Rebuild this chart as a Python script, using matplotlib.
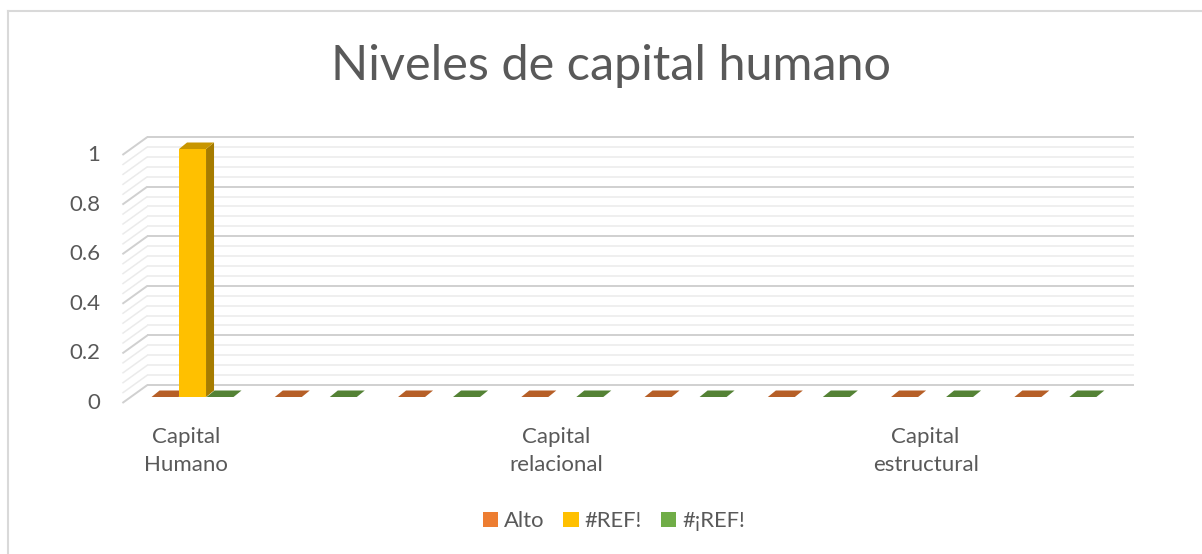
import numpy as np
import matplotlib
matplotlib.use("Agg")
import matplotlib.pyplot as plt
from matplotlib.patches import Polygon, Patch
from matplotlib.lines import Line2D

# ---- data ----
categories = ["Capital\nHumano", "", "", "Capital\nrelacional", "", "", "Capital\nestructural", ""]
series_names = ["Alto", "#REF!", "#¡REF!"]
alto = [0, 0, 0, 0, 0, 0, 0, 0]
ref1 = [1, np.nan, np.nan, np.nan, np.nan, np.nan, np.nan, np.nan]
ref2 = [0, 0, 0, 0, 0, 0, 0, 0]
y_ticks = [0, 0.2, 0.4, 0.6, 0.8, 1.0]
y_tick_labels = ["0", "0.2", "0.4", "0.6", "0.8", "1"]

front_colors = ["#ED7D31", "#FFC000", "#70AD47"]
top_colors = ["#B65F27", "#C89600", "#548235"]
side_colors = ["#A4541F", "#A67C00", "#4A7530"]

FONT = "Lato"
TXT = "#595959"

W_PX, H_PX = 1202, 554
fig = plt.figure(figsize=(W_PX / 100, H_PX / 100), dpi=100)
fig.patch.set_facecolor("white")

# bar plane axes: x -0.5..7.5, y 0..1
L, R = 130.9, 1117.0
Y0, Y1 = 397.0, 149.0
ax = fig.add_axes([L / W_PX, (H_PX - Y0) / H_PX, (R - L) / W_PX, (Y0 - Y1) / H_PX])
ax.set_xlim(-0.5, len(categories) - 0.5)
ax.set_ylim(0, 1)
ax.axis("off")

px_x = (R - L) / len(categories)
px_y = (Y0 - Y1)
# depth offsets (data units)
DXB, DYB = 16.5 / px_x, 12.0 / px_y      # back wall
DXF, DYF = -8.5 / px_x, -6.0 / px_y      # front plane
BDX, BDY = 8.0 / px_x, 6.5 / px_y        # bar depth

xmin, xmax = -0.5, len(categories) - 0.5

# gridlines (back wall + left side wall)
for k in range(26):
    v = k * 0.04
    major = (k % 5 == 0)
    col = "#D0D0D0" if major else "#EBEBEB"
    lw = 1.4 if major else 1.1
    ax.plot([xmin + DXB, xmax + DXB], [v + DYB, v + DYB], color=col, lw=lw,
            clip_on=False, zorder=1, solid_capstyle="butt")
    ax.plot([xmin + DXF, xmin + DXB], [v + DYF, v + DYB], color=col, lw=lw,
            clip_on=False, zorder=1, solid_capstyle="butt")

x = np.arange(len(categories))
bw = 27.0 / px_x
offsets = [-27.5 / px_x, 0.0, 27.5 / px_x]
series = [alto, ref1, ref2]

def draw_bar(xc, val, i, z):
    if val is None or np.isnan(val):
        return
    x0, x1 = xc - bw / 2, xc + bw / 2
    if val > 0:
        ax.add_patch(Polygon([(x0, 0), (x1, 0), (x1, val), (x0, val)], closed=True,
                             facecolor=front_colors[i], edgecolor="none", clip_on=False, zorder=z))
        ax.add_patch(Polygon([(x1, 0), (x1 + BDX, BDY), (x1 + BDX, val + BDY), (x1, val)], closed=True,
                             facecolor=side_colors[i], edgecolor="none", clip_on=False, zorder=z))
    ax.add_patch(Polygon([(x0, val), (x1, val), (x1 + BDX, val + BDY), (x0 + BDX, val + BDY)], closed=True,
                         facecolor=top_colors[i], edgecolor="none", clip_on=False, zorder=z))

for i in [0, 2, 1]:
    for j, xc in enumerate(x):
        draw_bar(xc + offsets[i], series[i][j], i, 3 + (1 if i == 1 else 0))

# y tick labels
for t, lab in zip(y_ticks, y_tick_labels):
    ax.text(xmin + DXF - 22.0 / px_x, t + DYF, lab, ha="right", va="center",
            fontsize=16, color=TXT, family=FONT, clip_on=False)

# category labels
for xc, lab in zip(x, categories):
    if lab:
        ax.text(xc + DXF + 2.0 / px_x, DYF - 24.0 / px_y, lab, ha="center", va="top",
                fontsize=16, color=TXT, family=FONT, linespacing=1.5, clip_on=False)

# title
fig.text(611 / W_PX, 1 - 66 / H_PX, "Niveles de capital humano", ha="center", va="center",
         fontsize=35, color=TXT, family=FONT, fontweight="normal")

# legend
handles = [Patch(facecolor=c, edgecolor="none") for c in front_colors]
fig.legend(handles, series_names, loc="center", bbox_to_anchor=(614 / W_PX, 1 - 521 / H_PX),
           ncol=3, frameon=False, handlelength=0.7, handleheight=0.7, handletextpad=0.28,
           columnspacing=0.85, prop={"family": FONT, "size": 15.8}, labelcolor=TXT)

# chart border
fig.add_artist(Line2D([8 / W_PX, 1.01], [1 - 11 / H_PX, 1 - 11 / H_PX], color="#D9D9D9", lw=1.5,
                      transform=fig.transFigure))
fig.add_artist(Line2D([8 / W_PX, 8 / W_PX], [-0.01, 1 - 11 / H_PX], color="#D9D9D9", lw=1.5,
                      transform=fig.transFigure))

fig.savefig("out.png", dpi=100, facecolor="white")
